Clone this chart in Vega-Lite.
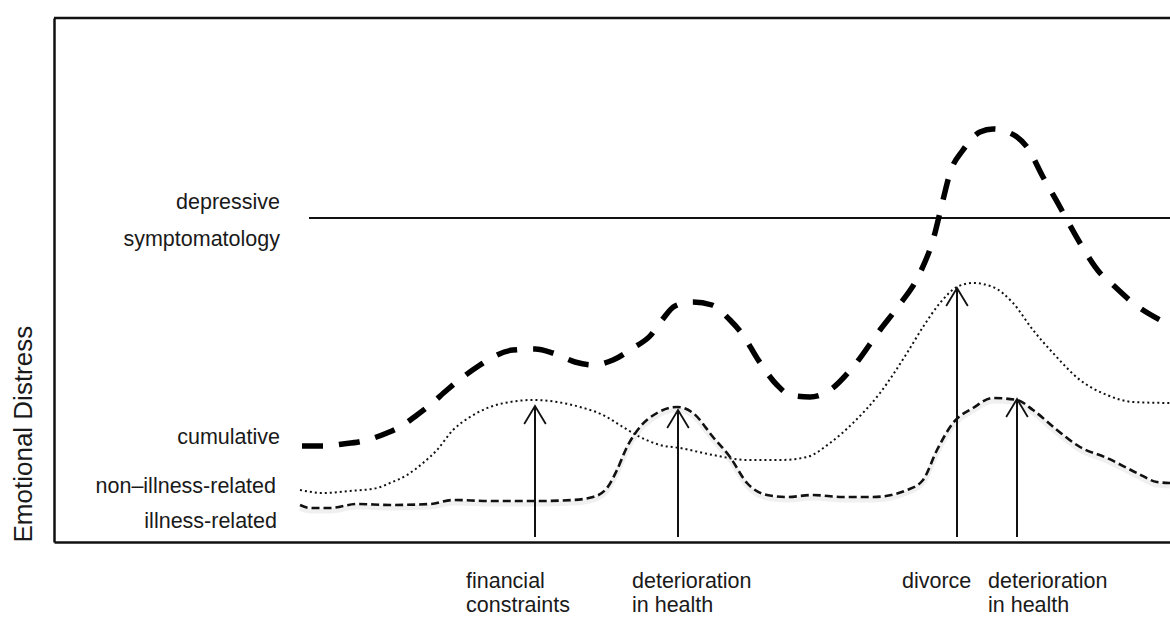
{
  "$schema": "https://vega.github.io/schema/vega-lite/v6.json",
  "width": 1116,
  "height": 524,
  "autosize": {"type": "none"},
  "padding": {"left": 54, "top": 18, "right": 0, "bottom": 77},
  "background": "white",
  "config": {
    "view": {"stroke": null},
    "font": "Liberation Sans",
    "axis": {"grid": false, "ticks": false, "labels": false, "domainColor": "#111111", "domainWidth": 2.5}
  },
  "datasets": {
    "cumulative": [
      {"x": 302, "y": 96}, {"x": 323, "y": 96}, {"x": 343, "y": 98}, {"x": 363, "y": 101},
      {"x": 387, "y": 109}, {"x": 400, "y": 115}, {"x": 417, "y": 127}, {"x": 430, "y": 137},
      {"x": 447, "y": 152}, {"x": 463, "y": 165}, {"x": 480, "y": 177}, {"x": 493, "y": 185},
      {"x": 513, "y": 192}, {"x": 535, "y": 193}, {"x": 553, "y": 189}, {"x": 575, "y": 180},
      {"x": 593, "y": 177}, {"x": 613, "y": 182}, {"x": 633, "y": 194}, {"x": 650, "y": 206},
      {"x": 662, "y": 222}, {"x": 675, "y": 236}, {"x": 693, "y": 240}, {"x": 712, "y": 237},
      {"x": 730, "y": 222}, {"x": 743, "y": 207}, {"x": 757, "y": 184}, {"x": 777, "y": 157},
      {"x": 790, "y": 147}, {"x": 810, "y": 145}, {"x": 827, "y": 150}, {"x": 853, "y": 175},
      {"x": 880, "y": 212}, {"x": 897, "y": 234}, {"x": 920, "y": 269}, {"x": 933, "y": 302},
      {"x": 943, "y": 342}, {"x": 950, "y": 369}, {"x": 963, "y": 392}, {"x": 980, "y": 410},
      {"x": 993, "y": 413}, {"x": 1017, "y": 405}, {"x": 1027, "y": 395}, {"x": 1043, "y": 365},
      {"x": 1060, "y": 335}, {"x": 1067, "y": 322}, {"x": 1080, "y": 299}, {"x": 1100, "y": 269},
      {"x": 1113, "y": 257}, {"x": 1133, "y": 239}, {"x": 1160, "y": 222}, {"x": 1170, "y": 217}
    ],
    "nonillness": [
      {"x": 300, "y": 52}, {"x": 323, "y": 49}, {"x": 350, "y": 51}, {"x": 377, "y": 54},
      {"x": 390, "y": 59}, {"x": 407, "y": 67}, {"x": 423, "y": 79}, {"x": 437, "y": 92},
      {"x": 453, "y": 112}, {"x": 470, "y": 125}, {"x": 490, "y": 135}, {"x": 510, "y": 140},
      {"x": 533, "y": 142}, {"x": 557, "y": 140}, {"x": 580, "y": 135}, {"x": 603, "y": 127},
      {"x": 623, "y": 115}, {"x": 640, "y": 105}, {"x": 660, "y": 97}, {"x": 680, "y": 94},
      {"x": 713, "y": 87}, {"x": 747, "y": 82}, {"x": 780, "y": 82}, {"x": 807, "y": 85},
      {"x": 830, "y": 99}, {"x": 853, "y": 119}, {"x": 880, "y": 149}, {"x": 907, "y": 189},
      {"x": 923, "y": 215}, {"x": 940, "y": 239}, {"x": 957, "y": 255}, {"x": 973, "y": 259},
      {"x": 993, "y": 255}, {"x": 1013, "y": 239}, {"x": 1033, "y": 212}, {"x": 1053, "y": 189},
      {"x": 1080, "y": 162}, {"x": 1107, "y": 147}, {"x": 1133, "y": 140}, {"x": 1170, "y": 139}
    ],
    "illness": [
      {"x": 300, "y": 37}, {"x": 310, "y": 34}, {"x": 330, "y": 34}, {"x": 357, "y": 38},
      {"x": 390, "y": 37}, {"x": 430, "y": 38}, {"x": 453, "y": 42}, {"x": 490, "y": 41},
      {"x": 537, "y": 41}, {"x": 573, "y": 42}, {"x": 593, "y": 45}, {"x": 607, "y": 54},
      {"x": 617, "y": 72}, {"x": 627, "y": 95}, {"x": 640, "y": 115}, {"x": 657, "y": 129},
      {"x": 677, "y": 135}, {"x": 693, "y": 129}, {"x": 713, "y": 105}, {"x": 730, "y": 85},
      {"x": 747, "y": 59}, {"x": 767, "y": 47}, {"x": 787, "y": 45}, {"x": 813, "y": 47},
      {"x": 843, "y": 45}, {"x": 873, "y": 45}, {"x": 907, "y": 52}, {"x": 923, "y": 62},
      {"x": 937, "y": 92}, {"x": 953, "y": 119}, {"x": 973, "y": 134}, {"x": 993, "y": 144},
      {"x": 1017, "y": 142}, {"x": 1033, "y": 132}, {"x": 1057, "y": 112}, {"x": 1080, "y": 95},
      {"x": 1107, "y": 84}, {"x": 1137, "y": 69}, {"x": 1157, "y": 60}, {"x": 1170, "y": 59}
    ],
    "threshold": [{"x": 309, "x2": 1170, "y": 324}],
    "arrows": [
      {"x": 535, "tip": 136, "base": 5},
      {"x": 678, "tip": 132, "base": 5},
      {"x": 957, "tip": 254, "base": 5},
      {"x": 1017, "tip": 143, "base": 5}
    ],
    "leftLabels": [
      {"x": 280, "y": 339, "label": "depressive"},
      {"x": 280, "y": 302, "label": "symptomatology"},
      {"x": 280, "y": 104, "label": "cumulative"},
      {"x": 276, "y": 55, "label": "non–illness-related"},
      {"x": 277, "y": 20, "label": "illness-related"}
    ],
    "bottomLabels": [
      {"x": 466, "y": -40, "label": "financial"},
      {"x": 466, "y": -64, "label": "constraints"},
      {"x": 632, "y": -40, "label": "deterioration"},
      {"x": 632, "y": -64, "label": "in health"},
      {"x": 902, "y": -40, "label": "divorce"},
      {"x": 988, "y": -40, "label": "deterioration"},
      {"x": 988, "y": -64, "label": "in health"}
    ],
    "frameTop": [{"y": 524}]
  },
  "encoding": {
    "x": {"field": "x", "type": "quantitative", "scale": {"domain": [54, 1170], "nice": false, "zero": false},
          "axis": {"title": null, "orient": "bottom"}},
    "y": {"field": "y", "type": "quantitative", "scale": {"domain": [0, 524], "nice": false, "zero": false},
          "axis": {"title": "Emotional Distress", "titleFontSize": 26, "titleFontWeight": "normal", "titleColor": "#1a1a1a",
                   "titleAnchor": "start", "titlePadding": 18, "titleFont": "Liberation Sans"}}
  },
  "layer": [
    {
      "data": {"name": "frameTop"},
      "mark": {"type": "rule", "color": "#111111", "strokeWidth": 2.5},
      "encoding": {"x": null}
    },
    {
      "data": {"name": "threshold"},
      "mark": {"type": "rule", "color": "#111111", "strokeWidth": 2},
      "encoding": {"x2": {"field": "x2"}}
    },
    {
      "data": {"name": "illness"},
      "mark": {"type": "line", "interpolate": "monotone", "color": "#000000", "opacity": 0.06, "strokeWidth": 5, "yOffset": 3},
      "encoding": {}
    },
    {
      "data": {"name": "illness"},
      "mark": {"type": "line", "interpolate": "monotone", "color": "#111111", "strokeWidth": 2.6, "strokeDash": [8, 4]},
      "encoding": {}
    },
    {
      "data": {"name": "nonillness"},
      "mark": {"type": "line", "interpolate": "monotone", "color": "#111111", "strokeWidth": 2, "strokeDash": [2, 3]},
      "encoding": {}
    },
    {
      "data": {"name": "cumulative"},
      "mark": {"type": "line", "interpolate": "monotone", "color": "#000000", "strokeWidth": 5.5, "strokeDash": [21, 16]},
      "encoding": {}
    },
    {
      "data": {"name": "arrows"},
      "mark": {"type": "rule", "color": "#111111", "strokeWidth": 2},
      "encoding": {"y": {"field": "tip", "type": "quantitative"}, "y2": {"field": "base"}}
    },
    {
      "data": {"name": "arrows"},
      "mark": {"type": "point", "shape": "M -0.6 1 L 0 0 L 0.6 1", "filled": false, "size": 1296, "color": "#111111", "strokeWidth": 1.8, "opacity": 1},
      "encoding": {"y": {"field": "tip", "type": "quantitative"}}
    },
    {
      "data": {"name": "leftLabels"},
      "mark": {"type": "text", "align": "right", "baseline": "middle", "fontSize": 21.5, "color": "#1a1a1a", "font": "Liberation Sans"},
      "encoding": {"text": {"field": "label"}}
    },
    {
      "data": {"name": "bottomLabels"},
      "mark": {"type": "text", "align": "left", "baseline": "middle", "fontSize": 21.5, "color": "#1a1a1a", "font": "Liberation Sans"},
      "encoding": {"text": {"field": "label"}}
    }
  ]
}
